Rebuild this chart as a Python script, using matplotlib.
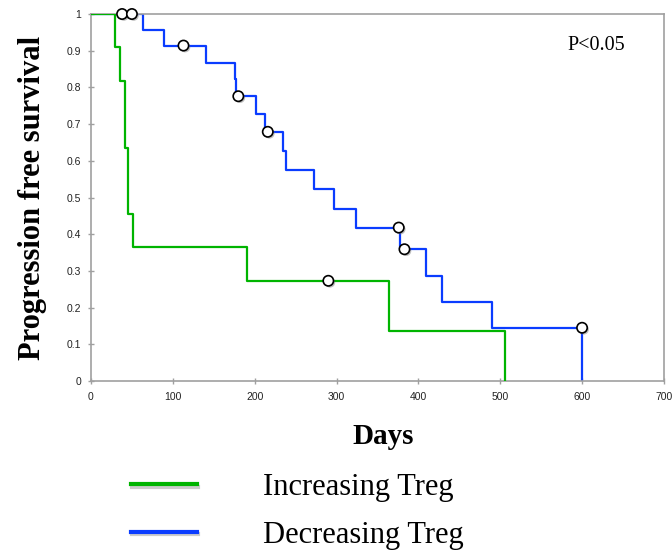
import matplotlib
matplotlib.use("Agg")
import matplotlib.pyplot as plt
import matplotlib.patheffects as pe
from matplotlib.ticker import FuncFormatter

# Kaplan-Meier step data (days, survival probability)
inc_times = [0, 29, 35.5, 41, 45.5, 51.5, 190, 364, 506]
inc_surv = [1, 0.909, 0.818, 0.636, 0.455, 0.364, 0.273, 0.136, 0]
inc_cens_t = [290]
inc_cens_s = [0.273]

dec_times = [0, 64, 89, 140, 176, 177, 201, 213, 234, 238, 273, 297, 324,
             377.5, 409.5, 429, 489.5, 600]
dec_surv = [1, 0.957, 0.914, 0.867, 0.822, 0.776, 0.728, 0.679, 0.627, 0.575,
            0.523, 0.47, 0.418, 0.359, 0.287, 0.215, 0.145, 0]
dec_cens_t = [38, 50, 113, 180, 216, 376, 383, 600]
dec_cens_s = [1, 1, 0.914, 0.776, 0.679, 0.418, 0.359, 0.145]

x_ticks = [0, 100, 200, 300, 400, 500, 600, 700]
y_ticks = [0, 0.1, 0.2, 0.3, 0.4, 0.5, 0.6, 0.7, 0.8, 0.9, 1]

GREEN = "#00B400"
BLUE = "#0A3CFF"
SPINE = "#A0A0A0"
serif = "Liberation Serif"

fig = plt.figure(figsize=(6.72, 5.54), dpi=100)
ax = fig.add_axes([0.1354, 0.3123, 0.8526, 0.6624])

shadow = [pe.SimpleLineShadow(offset=(1, -1.5), shadow_color="0.6", alpha=0.5), pe.Normal()]

l_dec, = ax.step(dec_times, dec_surv, where="post", color=BLUE, lw=1.6,
                 label="Decreasing Treg", zorder=2)
l_inc, = ax.step(inc_times, inc_surv, where="post", color=GREEN, lw=1.6,
                 label="Increasing Treg", zorder=3)

marker_fx = [pe.SimplePatchShadow(offset=(1.2, -1.2), shadow_rgbFace="0.5", alpha=0.5), pe.Normal()]
ax.scatter(dec_cens_t, dec_cens_s, s=55, facecolor="white", edgecolor="black",
           linewidth=1.2, zorder=5, clip_on=False, path_effects=marker_fx)
ax.scatter(inc_cens_t, inc_cens_s, s=55, facecolor="white", edgecolor="black",
           linewidth=1.2, zorder=5, clip_on=False, path_effects=marker_fx)

ax.set_xlim(0, 700)
ax.set_ylim(0, 1)
ax.set_xticks(x_ticks)
ax.set_yticks(y_ticks)
ax.yaxis.set_major_formatter(FuncFormatter(lambda v, p: f"{v:g}"))
for s in ax.spines.values():
    s.set_color(SPINE)
    s.set_linewidth(1.2)
ax.tick_params(direction="inout", length=4, width=1, color=SPINE,
               labelsize=7.5, labelcolor="#222222")
ax.tick_params(axis="x", pad=6)
ax.tick_params(axis="y", pad=5)
for lab in ax.get_xticklabels() + ax.get_yticklabels():
    lab.set_fontfamily("Liberation Sans")

ax.set_ylabel("Progression free survival", fontfamily=serif, fontweight="bold",
              fontsize=22, labelpad=14)
ax.set_xlabel("Days", fontfamily=serif, fontweight="bold", fontsize=21, labelpad=14)
ax.xaxis.set_label_coords(0.51, -0.115)

ax.text(0.881, 0.915, "P<0.05", transform=ax.transAxes, fontfamily=serif,
        fontsize=14.5, ha="center", va="center")

leg = fig.legend(handles=[l_inc, l_dec], loc="upper left",
                 bbox_to_anchor=(0.195, 0.146), frameon=False,
                 prop={"family": serif, "size": 22},
                 handlelength=2.16, handletextpad=2.16, labelspacing=0.62,
                 borderaxespad=0, borderpad=0)
for h in leg.legend_handles:
    h.set_linewidth(3)
    h.set_path_effects(shadow)

fig.savefig("out.png", dpi=100)
